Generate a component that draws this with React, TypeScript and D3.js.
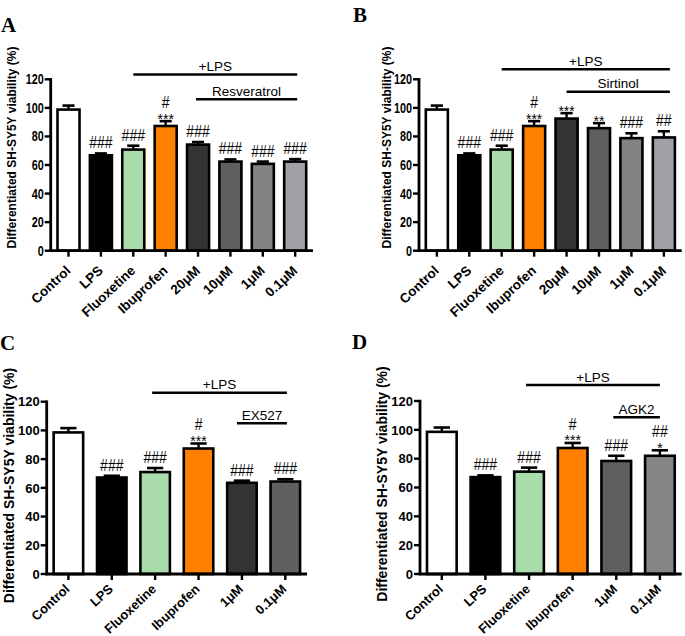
import React from "react";
import * as d3 from "d3";

const catsAB = ["Control", "LPS", "Fluoxetine", "Ibuprofen", "20\u03bcM", "10\u03bcM", "1\u03bcM", "0.1\u03bcM"];
const catsCD = ["Control", "LPS", "Fluoxetine", "Ibuprofen", "1\u03bcM", "0.1\u03bcM"];

const valuesA = [98.8, 66.8, 70.8, 87.3, 74.3, 62.4, 60.8, 62.4];
const errA = [2.8, 1.3, 2.7, 3.4, 1.8, 1.5, 1.6, 1.7];
const valuesB = [98.8, 66.8, 70.8, 87.3, 92.5, 85.8, 78.8, 79.3];
const errB = [2.8, 1.3, 2.7, 3.4, 3.8, 3.5, 3.4, 4.3];
const valuesC = [98.6, 67.2, 71.0, 87.4, 63.5, 64.4];
const errC = [3.0, 1.2, 2.8, 3.5, 1.5, 1.6];
const valuesD = [98.6, 67.2, 71.0, 87.4, 78.4, 82.0];
const errD = [3.0, 1.2, 2.8, 3.5, 3.6, 3.8];

const annA = [[], ["###"], ["###"], ["#", "***"], ["###"], ["###"], ["###"], ["###"]];
const annB = [[], ["###"], ["###"], ["#", "***"], ["***"], ["**"], ["###"], ["##"]];
const annC = [[], ["###"], ["###"], ["#", "***"], ["###"], ["###"]];
const annD = [[], ["###"], ["###"], ["#", "***"], ["###"], ["##", "*"]];

const colorsAB = ["#ffffff", "#000000", "#a9dcaa", "#ff7f00", "#333333", "#5f5f5f", "#838383", "#a2a2a6"];
const colorsC = ["#ffffff", "#000000", "#a9dcaa", "#ff7f00", "#333333", "#606060"];
const colorsD = ["#ffffff", "#000000", "#a9dcaa", "#ff7f00", "#5f5f5f", "#858585"];

const yTicks = [0, 20, 40, 60, 80, 100, 120];
const yTitle = "Differentiated SH-SY5Y viability (%)";

const SANS = "'Liberation Sans', Arial, Helvetica, sans-serif";
const SERIF = "'Liberation Serif', 'Times New Roman', serif";

type Bracket = { label: string; from: string; to: string; y: number; dx0: number; dx1: number };

type PanelProps = {
  letter: string;
  letterX: number;
  letterY: number;
  cats: string[];
  values: number[];
  errs: number[];
  colors: string[];
  ann: string[][];
  axisX: number;
  axisEnd: number;
  yTop: number;
  yBottom: number;
  pad: number;
  tickFont: number;
  tickSX: number;
  tickSY: number;
  labelFont: number;
  labelDX: number;
  labelDY: number;
  titleFont: number;
  titleX: number;
  titleY: number;
  brackets: Bracket[];
};

function Panel(p: PanelProps) {
  const x = d3.scalePoint<string>().domain(p.cats).range([p.axisX, p.axisEnd]).padding(p.pad);
  const y = d3.scaleLinear().domain([0, 120]).range([p.yBottom, p.yTop]);
  const step = x.step();
  const bw = step * 0.68;
  const capW = bw * 0.55;
  return (
    <g>
      <text x={p.letterX} y={p.letterY} fontFamily={SERIF} fontWeight="bold" fontSize={21}>
        {p.letter}
      </text>
      <text
        transform={`translate(${p.titleX},${p.titleY}) rotate(-90)`}
        textAnchor="middle"
        fontFamily={SANS}
        fontWeight="bold"
        fontSize={p.titleFont}
      >
        {yTitle}
      </text>
      {p.cats.map((c, i) => {
        const cx = x(c) as number;
        const top = y(p.values[i]);
        const capY = y(p.values[i] + p.errs[i]);
        return (
          <g key={c}>
            <line x1={cx} x2={cx} y1={top} y2={capY} stroke="#000" strokeWidth={2.4} />
            <line x1={cx - capW / 2} x2={cx + capW / 2} y1={capY} y2={capY} stroke="#000" strokeWidth={2.6} />
            <rect
              x={cx - bw / 2}
              y={top}
              width={bw}
              height={p.yBottom - top}
              fill={p.colors[i]}
              stroke="#000"
              strokeWidth={2.6}
            />
          </g>
        );
      })}
      {p.cats.map((c, i) => {
        const cx = x(c) as number;
        const capY = y(p.values[i] + p.errs[i]);
        const lines = p.ann[i];
        if (!lines.length) return null;
        const last = lines[lines.length - 1];
        let base = last.startsWith("*") ? capY + 2.5 : capY - 5;
        const out: React.ReactNode[] = [];
        for (let k = lines.length - 1; k >= 0; k--) {
          const isStar = lines[k].startsWith("*");
          out.push(
            <text
              key={k}
              transform={`translate(${cx},${base}) scale(1,${isStar ? 1 : 1.15})`}
              textAnchor="middle"
              fontFamily={SANS}
              fontSize={14}
            >
              {lines[k]}
            </text>
          );
          base -= 15.5;
        }
        return <g key={"a" + c}>{out}</g>;
      })}
      {/* axes */}
      <line x1={p.axisX} x2={p.axisX} y1={p.yTop - 1.2} y2={p.yBottom + 1.2} stroke="#000" strokeWidth={2.8} />
      <line x1={p.axisX - 1.2} x2={p.axisEnd} y1={p.yBottom} y2={p.yBottom} stroke="#000" strokeWidth={2.8} />
      {yTicks.map((t) => (
        <g key={t}>
          <line x1={p.axisX - 6} x2={p.axisX} y1={y(t)} y2={y(t)} stroke="#000" strokeWidth={2.4} />
          <text
            transform={`translate(${p.axisX - 7},${y(t)}) scale(${p.tickSX},${p.tickSY})`}
            dy="0.36em"
            textAnchor="end"
            fontFamily={SANS}
            fontWeight="bold"
            fontSize={p.tickFont}
          >
            {t}
          </text>
        </g>
      ))}
      {p.cats.map((c) => {
        const cx = x(c) as number;
        return (
          <g key={"x" + c}>
            <line x1={cx} x2={cx} y1={p.yBottom} y2={p.yBottom + 6} stroke="#000" strokeWidth={2.4} />
            <text
              transform={`translate(${cx + p.labelDX},${p.yBottom + p.labelDY}) rotate(-43)`}
              textAnchor="end"
              fontFamily={SANS}
              fontWeight="bold"
              fontSize={p.labelFont}
            >
              {c}
            </text>
          </g>
        );
      })}
      {p.brackets.map((b) => {
        const x0 = (x(b.from) as number) + b.dx0;
        const x1 = (x(b.to) as number) + b.dx1;
        return (
          <g key={b.label}>
            <line x1={x0} x2={x1} y1={b.y} y2={b.y} stroke="#000" strokeWidth={2.6} />
            <text x={(x0 + x1) / 2} y={b.y - 3.5} textAnchor="middle" fontFamily={SANS} fontSize={13.5}>
              {b.label}
            </text>
          </g>
        );
      })}
    </g>
  );
}

export default function App() {
  return (
    <svg width={685} height={636} style={{ display: "block", position: "absolute", left: 0, top: 0, background: "#fff" }}>
      <rect width={685} height={636} fill="#fff" />
      <Panel
        letter="A"
        letterX={1}
        letterY={31.5}
        cats={catsAB}
        values={valuesA}
        errs={errA}
        colors={colorsAB}
        ann={annA}
        axisX={50.7}
        axisEnd={313}
        yTop={79.3}
        yBottom={250.7}
        pad={0.55}
        tickFont={12}
        tickSX={0.9}
        tickSY={1.15}
        labelFont={13.5}
        labelDX={3}
        labelDY={21}
        titleFont={12}
        titleX={15.5}
        titleY={147.5}
        brackets={[
          { label: "+LPS", from: "Fluoxetine", to: "0.1\u03bcM", y: 74.5, dx0: 0, dx1: 2 },
          { label: "Resveratrol", from: "20\u03bcM", to: "0.1\u03bcM", y: 99.3, dx0: -2, dx1: 2 },
        ]}
      />
      <Panel
        letter="B"
        letterX={353}
        letterY={21.5}
        cats={catsAB}
        values={valuesB}
        errs={errB}
        colors={colorsAB}
        ann={annB}
        axisX={419}
        axisEnd={681.7}
        yTop={79.3}
        yBottom={250.7}
        pad={0.55}
        tickFont={12}
        tickSX={0.9}
        tickSY={1.15}
        labelFont={13.5}
        labelDX={3}
        labelDY={21}
        titleFont={12}
        titleX={391}
        titleY={147.5}
        brackets={[
          { label: "+LPS", from: "Fluoxetine", to: "0.1\u03bcM", y: 69.3, dx0: 0, dx1: 6 },
          { label: "Sirtinol", from: "20\u03bcM", to: "0.1\u03bcM", y: 91.7, dx0: 0, dx1: 6 },
        ]}
      />
      <Panel
        letter="C"
        letterX={0}
        letterY={349.5}
        cats={catsCD}
        values={valuesC}
        errs={errC}
        colors={colorsC}
        ann={annC}
        axisX={46.7}
        axisEnd={307}
        yTop={401.7}
        yBottom={574}
        pad={0.5}
        tickFont={13}
        tickSX={1}
        tickSY={1}
        labelFont={13}
        labelDX={2}
        labelDY={16}
        titleFont={14}
        titleX={13.5}
        titleY={485.5}
        brackets={[
          { label: "+LPS", from: "Fluoxetine", to: "0.1\u03bcM", y: 392.7, dx0: -3, dx1: 1.6 },
          { label: "EX527", from: "1\u03bcM", to: "0.1\u03bcM", y: 423.3, dx0: -5, dx1: 1.6 },
        ]}
      />
      <Panel
        letter="D"
        letterX={352}
        letterY={348.5}
        cats={catsCD}
        values={valuesD}
        errs={errD}
        colors={colorsD}
        ann={annD}
        axisX={420}
        axisEnd={681.7}
        yTop={401}
        yBottom={574}
        pad={0.5}
        tickFont={13}
        tickSX={1}
        tickSY={1}
        labelFont={13}
        labelDX={2}
        labelDY={16}
        titleFont={14}
        titleX={386.5}
        titleY={484}
        brackets={[
          { label: "+LPS", from: "Fluoxetine", to: "0.1\u03bcM", y: 385, dx0: -3, dx1: 0 },
          { label: "AGK2", from: "1\u03bcM", to: "0.1\u03bcM", y: 417.3, dx0: -3, dx1: 0 },
        ]}
      />
    </svg>
  );
}
